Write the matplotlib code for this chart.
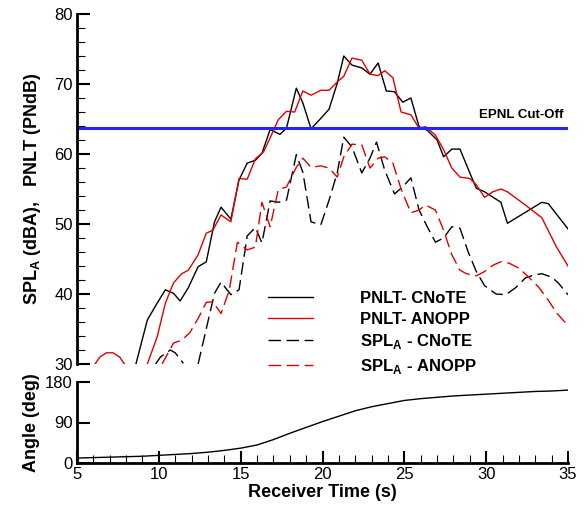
import matplotlib
matplotlib.use("Agg")
import matplotlib.pyplot as plt
from matplotlib.ticker import MultipleLocator

plt.rcParams["font.family"] = ["Liberation Sans", "DejaVu Sans"]
plt.rcParams["mathtext.fontset"] = "custom"
plt.rcParams["mathtext.rm"] = "Liberation Sans"
plt.rcParams["mathtext.bf"] = "Liberation Sans:bold"

# ---------------------------------------------------------------------------
# Data
# ---------------------------------------------------------------------------
pnlt_cnote_t = [8.6, 9.3, 9.9, 10.4, 10.9, 11.3, 11.8, 12.4, 12.9, 13.4, 13.8, 14.4,
                14.9, 15.4, 15.9, 16.3, 16.8, 17.4, 17.8, 18.4, 18.8, 19.3, 19.9, 20.4,
                20.9, 21.3, 21.8, 22.4, 22.9, 23.4, 23.9, 24.4, 24.9, 25.4, 25.9, 26.4,
                27.0, 27.4, 27.9, 28.4, 29.0, 29.4, 29.9, 30.9, 31.3, 33.4, 33.8, 35.0]
pnlt_cnote = [30.0, 36.3, 38.7, 40.6, 40.1, 39.0, 40.9, 43.9, 44.6, 50.3, 52.4, 50.7,
              56.3, 58.7, 59.1, 60.1, 63.5, 62.8, 63.7, 69.4, 67.3, 63.6, 65.1, 66.4,
              70.1, 74.0, 72.7, 72.3, 71.4, 73.0, 69.0, 68.9, 67.4, 68.0, 63.9, 63.4,
              62.0, 59.6, 60.7, 60.7, 57.3, 55.1, 54.6, 53.1, 50.1, 53.1, 52.9, 49.3]

pnlt_anopp_early_t = [6.1, 6.4, 6.8, 7.2, 7.6, 7.9]
pnlt_anopp_early = [30.0, 31.0, 31.6, 31.6, 31.0, 30.0]
pnlt_anopp_t = [9.3, 9.9, 10.4, 10.9, 11.4, 11.8, 12.4, 12.9, 13.3, 13.8, 14.4, 14.9,
                15.4, 15.9, 16.4, 16.8, 17.3, 17.8, 18.3, 18.8, 19.3, 19.9, 20.4, 20.9,
                21.3, 21.8, 22.4, 22.9, 23.4, 23.8, 24.3, 24.8, 25.4, 25.9, 26.3, 26.9,
                27.4, 27.9, 28.4, 29.0, 29.4, 29.9, 30.4, 30.9, 31.3, 32.4, 33.4, 34.3, 35.0]
pnlt_anopp = [30.0, 33.9, 38.7, 41.6, 42.9, 43.4, 45.6, 48.7, 49.1, 51.3, 50.3, 56.5,
              56.4, 59.3, 60.3, 62.3, 64.9, 66.1, 66.0, 69.0, 68.4, 69.1, 69.1, 70.3,
              71.1, 73.7, 73.4, 71.4, 71.2, 71.9, 70.9, 66.0, 65.6, 63.7, 63.9, 62.7,
              60.6, 58.0, 56.7, 56.5, 55.6, 53.8, 54.6, 55.0, 54.6, 52.7, 50.9, 46.7, 44.0]

spl_cnote_early_t = [9.8, 10.1, 10.7, 11.0, 11.5]
spl_cnote_early = [30.0, 31.0, 32.0, 31.6, 30.1]
spl_cnote_t = [12.4, 13.4, 13.8, 14.4, 14.9, 15.4, 15.9, 16.3, 16.8, 17.3, 17.8, 18.4,
               18.8, 19.3, 19.9, 20.4, 20.9, 21.3, 21.8, 22.4, 22.9, 23.3, 23.8, 24.4,
               24.9, 25.4, 25.9, 26.4, 26.9, 27.4, 27.9, 28.4, 28.9, 29.4, 29.9, 30.6,
               31.2, 31.8, 32.4, 32.9, 33.4, 34.0, 34.4, 35.0]
spl_cnote = [30.0, 40.1, 41.7, 39.9, 40.6, 48.3, 49.5, 47.3, 53.3, 53.1, 53.4, 59.9,
             57.4, 50.3, 49.9, 53.4, 57.3, 62.4, 61.0, 57.3, 59.4, 61.7, 57.7, 54.3,
             55.3, 56.6, 52.0, 49.6, 47.4, 48.0, 49.6, 49.4, 46.0, 43.2, 41.2, 40.0,
             39.9, 40.9, 42.3, 42.7, 42.9, 42.4, 41.6, 39.9]

spl_anopp_t = [10.2, 10.9, 11.4, 11.9, 12.4, 12.9, 13.3, 13.8, 14.3, 14.8, 15.4, 15.9,
               16.3, 16.8, 17.3, 17.8, 18.4, 18.8, 19.3, 19.9, 20.4, 20.9, 21.3, 21.8,
               22.4, 22.9, 23.4, 23.8, 24.3, 24.8, 25.4, 25.9, 26.3, 26.9, 27.4, 27.9,
               28.4, 28.8, 29.4, 29.9, 30.4, 30.9, 31.4, 32.0, 32.6, 33.2, 33.8, 34.3, 35.0]
spl_anopp = [30.0, 33.0, 33.4, 34.5, 36.5, 38.8, 38.9, 37.2, 40.5, 47.4, 46.3, 46.7,
             53.1, 49.6, 54.9, 55.3, 58.1, 59.4, 58.1, 58.3, 58.0, 56.7, 59.6, 61.4,
             61.3, 58.0, 59.4, 59.6, 58.7, 55.0, 51.6, 52.0, 52.7, 52.0, 49.1, 45.6,
             43.4, 42.9, 42.6, 43.2, 44.1, 44.6, 44.4, 43.7, 42.4, 41.0, 39.1, 37.3, 35.5]

epnl_cutoff = 63.7

angle_t = [5, 6, 7, 8, 9, 10, 11, 12, 13, 14, 15, 16, 17, 18, 19, 20, 21, 22, 23, 24,
           25, 26, 27, 28, 29, 30, 31, 32, 33, 34, 35]
angle = [11, 12, 13, 14, 15, 17, 19, 21, 24, 28, 33, 40, 52, 66, 79, 92, 104, 116, 125,
         132, 139, 143, 146, 149, 151, 153, 155, 157, 159, 160, 162]

RED = "#e00000"
BLUE = "#2424ff"
DASH = (0, (9, 4))


def style_axis(ax):
    ax.tick_params(which="major", direction="in", length=9, width=1.5, labelsize=12, pad=3)
    ax.tick_params(which="minor", direction="in", length=6, width=0.8)
    for side in ("top", "right"):
        ax.spines[side].set_visible(False)
    ax.spines["left"].set_linewidth(2)


fig = plt.figure(figsize=(5.88, 5.05), dpi=100)
ax = fig.add_axes([77 / 588, 1 - 364 / 505, 491 / 588, 350 / 505])
ax2 = fig.add_axes([77 / 588, 1 - 463 / 505, 491 / 588, 81 / 505])

# ---- top panel ----
ax.plot(pnlt_cnote_t, pnlt_cnote, color="black", lw=1.0, label="PNLT- CNoTE")
ax.plot(pnlt_anopp_early_t, pnlt_anopp_early, color=RED, lw=1.0)
ax.plot(pnlt_anopp_t, pnlt_anopp, color=RED, lw=1.0, label="PNLT- ANOPP")
ax.plot(spl_cnote_early_t, spl_cnote_early, color="black", lw=1.0, linestyle=DASH)
ax.plot(spl_cnote_t, spl_cnote, color="black", lw=1.0, linestyle=DASH,
        label=r"SPL$_\mathbf{A}$ - CNoTE")
ax.plot(spl_anopp_t, spl_anopp, color=RED, lw=1.0, linestyle=DASH,
        label=r"SPL$_\mathbf{A}$ - ANOPP")
ax.axhline(epnl_cutoff, color=BLUE, lw=2.2)
ax.text(34.7, epnl_cutoff + 1.0, "EPNL Cut-Off", ha="right", va="bottom",
        fontsize=9.5, fontweight="bold")

ax.set_xlim(5, 35)
ax.set_ylim(30, 80)
ax.yaxis.set_major_locator(MultipleLocator(10))
ax.yaxis.set_minor_locator(MultipleLocator(2))
style_axis(ax)
ax.spines["bottom"].set_visible(False)
ax.set_xticks([])
ax.set_ylabel(r"SPL$_\mathbf{A}$ (dBA),   PNLT (PNdB)", fontsize=13,
              fontweight="bold", labelpad=8)

fig.legend(loc="upper left", bbox_to_anchor=(268 / 588, 1 - 291 / 505),
           frameon=False, prop={"weight": "bold", "size": 12},
           handlelength=2.7, handletextpad=2.8, labelspacing=0.33,
           borderpad=0, borderaxespad=0)

# ---- bottom panel ----
ax2.plot(angle_t, angle, color="black", lw=1.0)
ax2.set_xlim(5, 35)
ax2.set_ylim(0, 180)
ax2.set_yticks([0, 90, 180])
ax2.xaxis.set_major_locator(MultipleLocator(5))
ax2.xaxis.set_minor_locator(MultipleLocator(1))
style_axis(ax2)
ax2.spines["bottom"].set_linewidth(2)
ax2.set_xlabel("Receiver Time (s)", fontsize=13, fontweight="bold", labelpad=1)
ax2.set_ylabel("Angle (deg)", fontsize=13, fontweight="bold", labelpad=4)

fig.savefig("out.png", dpi=100)
